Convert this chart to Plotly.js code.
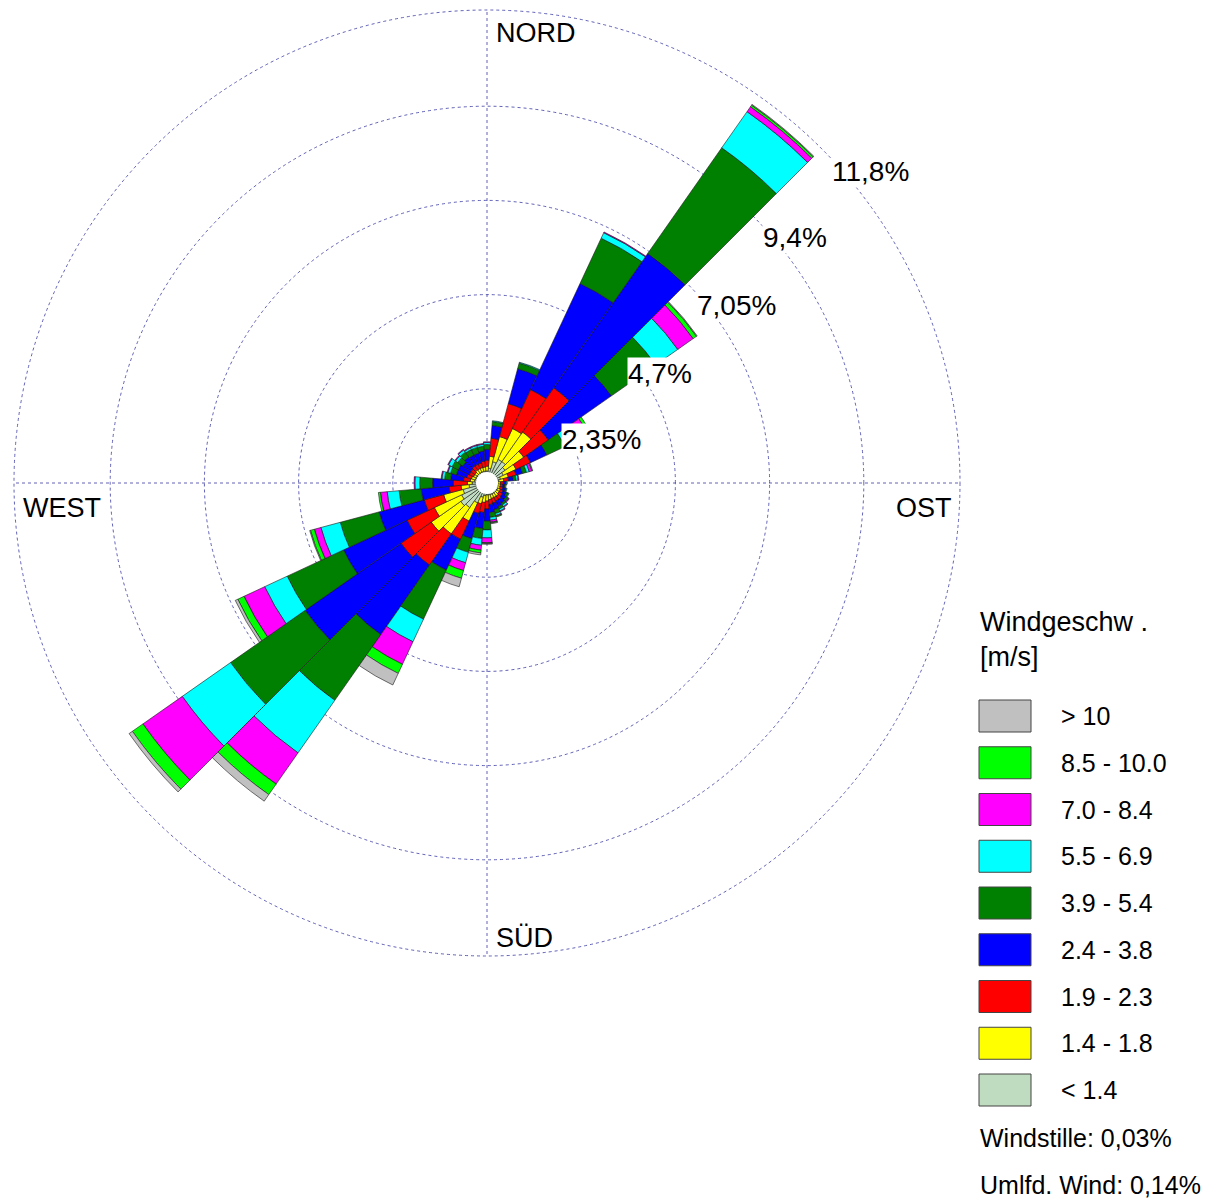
<!DOCTYPE html>
<html><head><meta charset="utf-8">
<script src="https://cdn.plot.ly/plotly-3.0.1.min.js"></script>
<style>html,body{margin:0;padding:0;background:#fff}</style>
</head><body>
<div id="chart" style="width:1227px;height:1198px"></div>
<script>
// Wind directions (degrees, clockwise from north)
const directions = [10,20,30,40,50,60,70,80,90,100,110,120,130,140,150,160,170,180,
                    190,200,210,220,230,240,250,260,270,280,290,300,310,320,330,340,350,360];
// Speed classes (inner to outer)
const classLabels = ['< 1.4','1.4 - 1.8','1.9 - 2.3','2.4 - 3.8','3.9 - 5.4','5.5 - 6.9','7.0 - 8.4','8.5 - 10.0','> 10'];
const classColors = ['#c0dcc0','#ffff00','#ff0000','#0000ff','#008000','#00ffff','#ff00ff','#00ff00','#c0c0c0'];
// Frequencies in % per direction for each class
const sLt14   = [0.37,0.55,0.65,0.65,0.55,0.45,0.35,0.30,0.27,0.27,0.27,0.30,0.30,0.30,0.30,0.30,0.30,0.30,0.32,0.37,0.55,0.75,0.80,0.70,0.62,0.45,0.37,0.32,0.30,0.30,0.30,0.30,0.30,0.30,0.30,0.30];
const s14_18  = [0.30,0.65,0.85,0.90,0.57,0.35,0.20,0.12,0.07,0.07,0.07,0.07,0.07,0.10,0.10,0.10,0.12,0.15,0.17,0.17,0.50,0.80,0.90,0.75,0.50,0.20,0.12,0.10,0.10,0.07,0.07,0.10,0.10,0.10,0.10,0.12];
const s19_23  = [0.45,0.85,1.07,1.35,0.75,0.40,0.20,0.12,0.07,0.05,0.07,0.07,0.10,0.10,0.10,0.12,0.12,0.20,0.25,0.25,0.50,0.95,0.92,0.75,0.50,0.30,0.35,0.17,0.12,0.12,0.12,0.12,0.12,0.12,0.15,0.15];
const s24_38  = [0.32,0.90,2.92,4.09,1.92,0.45,0.17,0.12,0.05,0.05,0.07,0.10,0.12,0.12,0.15,0.17,0.20,0.30,0.40,0.65,0.85,2.12,2.92,1.75,1.17,0.70,0.52,0.32,0.27,0.30,0.25,0.27,0.25,0.25,0.25,0.27];
const s39_54  = [0.10,0.15,1.25,3.22,1.35,0.50,0.10,0.07,0.02,0.02,0.02,0.05,0.05,0.05,0.07,0.10,0.12,0.22,0.25,0.35,1.35,2.00,2.27,1.55,1.00,0.55,0.32,0.15,0.15,0.17,0.15,0.15,0.15,0.15,0.12,0.12];
const s55_69  = [0.02,0.02,0.15,1.10,0.67,0.35,0.07,0.05,0.02,0.02,0.02,0.02,0.02,0.05,0.05,0.05,0.07,0.20,0.17,0.27,0.62,1.60,1.47,0.62,0.50,0.30,0.12,0.07,0.07,0.10,0.07,0.07,0.05,0.05,0.05,0.05];
const s70_84  = [0,0,0.02,0.15,0.47,0.30,0.07,0.02,0,0,0,0,0.02,0.02,0.02,0.02,0.05,0.12,0.12,0.20,0.62,0.95,1.20,0.57,0.17,0.17,0.02,0.02,0.02,0.02,0.02,0.02,0.02,0.02,0.02,0.02];
const s85_100 = [0,0,0,0.05,0.10,0.07,0.02,0,0,0,0,0,0,0,0,0.02,0.02,0.02,0.07,0.20,0.25,0.32,0.32,0.17,0.10,0.05,0,0,0,0,0,0,0,0,0,0];
const sGt10   = [0,0,0,0.02,0.02,0,0,0,0,0,0,0,0,0,0,0,0.02,0.02,0.05,0.22,0.32,0.20,0.10,0.07,0.02,0,0,0,0,0,0,0,0,0,0];
const seriesValues = [sLt14,s14_18,s19_23,s24_38,s39_54,s55_69,s70_84,s85_100,sGt10];

const ringValues = [2.35,4.7,7.05,9.4,11.8];
const ringLabels = ['2,35%','4,7%','7,05%','9,4%','11,8%'];
const compassLabels = ['NORD','OST','SÜD','WEST'];
const compassAngles = [0,90,180,270];
const legendTitle = ['Windgeschw .','[m/s]'];
const footerTexts = ['Windstille: 0,03%','Umlfd. Wind: 0,14%'];

const W = 1227, H = 1198;
const px = x => x / W;
const py = y => 1 - y / H;
const FONT = 'Liberation Sans, Arial, sans-serif';
const GRID = 'rgba(70,70,170,0.85)';

const traces = seriesValues.map((vals, i) => ({
  type: 'barpolar',
  r: vals,
  theta: directions,
  name: classLabels[i],
  marker: {color: classColors[i], line: {color: '#1a1a1a', width: 0.6}},
  hoverinfo: 'skip'
}));

const annotations = [];
// ring labels
const ringPos = [[561,440],[627,373],[696,305],[762,238],[831,172]];
ringLabels.forEach((t, i) => annotations.push({
  xref:'paper', yref:'paper', x: px(ringPos[i][0]), y: py(ringPos[i][1]),
  xanchor:'left', yanchor:'middle', text: t, showarrow:false,
  bgcolor:'#ffffff', borderpad:0, font:{family:FONT, size:28, color:'#000'}
}));
// compass labels
const compassPos = [[494,33],[894,508],[494,938],[21,508]];
compassLabels.forEach((t, i) => annotations.push({
  xref:'paper', yref:'paper', x: px(compassPos[i][0]), y: py(compassPos[i][1]),
  xanchor:'left', yanchor:'middle', text: t, showarrow:false,
  font:{family:FONT, size:27, color:'#000'}
}));
// legend title
legendTitle.forEach((t, i) => annotations.push({
  xref:'paper', yref:'paper', x: px(978), y: py(622 + i*35),
  xanchor:'left', yanchor:'middle', text: t, showarrow:false,
  font:{family:FONT, size:27, color:'#000'}
}));
// legend entries (outermost class first)
const shapes = [];
const order = [8,7,6,5,4,3,2,1,0];
order.forEach((ci, k) => {
  const yc = 716 + k*46.75;
  shapes.push({type:'rect', xref:'paper', yref:'paper',
    x0:px(979), x1:px(1031), y0:py(yc-16), y1:py(yc+16),
    fillcolor: classColors[ci], line:{color:'#444', width:1}});
  annotations.push({xref:'paper', yref:'paper', x:px(1059), y:py(yc),
    xanchor:'left', yanchor:'middle', text: classLabels[ci], showarrow:false,
    font:{family:FONT, size:25, color:'#000'}});
});
footerTexts.forEach((t, i) => annotations.push({
  xref:'paper', yref:'paper', x: px(978), y: py(1138 + i*47),
  xanchor:'left', yanchor:'middle', text: t, showarrow:false,
  font:{family:FONT, size:25, color:'#000'}
}));
// central white hole
shapes.push({type:'circle', xref:'paper', yref:'paper', layer:'above',
  xsizemode:'pixel', ysizemode:'pixel', xanchor:px(487), yanchor:py(483),
  x0:-11, x1:11, y0:-11, y1:11, fillcolor:'#ffffff', line:{width:0}});
// outer dotted circle of the polar area
shapes.push({type:'circle', xref:'paper', yref:'paper', layer:'below',
  xsizemode:'pixel', ysizemode:'pixel', xanchor:px(487), yanchor:py(483),
  x0:-473, x1:473, y0:-473, y1:473, line:{color:GRID, width:1, dash:'dot'}});

const layout = {
  width: W, height: H,
  margin: {l:0, r:0, t:0, b:0},
  paper_bgcolor: '#fff',
  showlegend: false,
  polar: {
    domain: {x:[px(14), px(960)], y:[py(956), py(10)]},
    bgcolor: 'rgba(0,0,0,0)',
    bargap: 0,
    radialaxis: {
      range: [0, 11.8], tickvals: ringValues, showticklabels: false, ticks: '',
      showline: false, gridcolor: GRID, griddash: 'dot', gridwidth: 1
    },
    angularaxis: {
      rotation: 90, direction: 'clockwise', tickvals: compassAngles,
      showticklabels: false, ticks: '', showline: false,
      gridcolor: GRID, griddash: 'dot', gridwidth: 1
    }
  },
  annotations: annotations,
  shapes: shapes
};

Plotly.newPlot('chart', traces, layout, {staticPlot: true});
</script>
</body></html>
